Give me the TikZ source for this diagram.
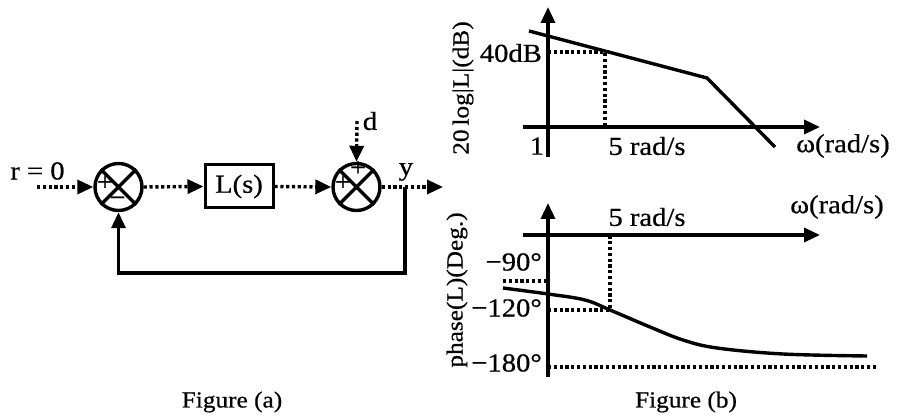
\documentclass[tikz,border=0pt]{standalone}
\usepackage{fontspec}
\setmainfont[FakeStretch=1.1,FakeBold=0.6]{Liberation Serif}
\usetikzlibrary{arrows.meta}
\begin{document}
\begin{tikzpicture}[x=1pt,y=-1pt,
  every node/.style={font=\fontsize{26}{30}\selectfont, inner sep=0pt},
  ln/.style={line width=3.4pt},
  dt/.style={line width=3.4pt, dash pattern=on 3.2pt off 2.6pt},
  arr/.style={-{Triangle[length=16pt,width=14pt]}},
  sumj/.style={circle, draw, line width=3.4pt, minimum size=47pt},
  blk/.style={draw, line width=3pt, minimum width=68pt, minimum height=43pt},
  sgn/.style={font=\fontsize{26}{28}\selectfont, text height=0.5em, text depth=0pt},
  figcap/.style={font=\fontsize{23}{26}\selectfont},
  vlab/.style={rotate=90, font=\fontsize{23}{26}\selectfont}]
\useasboundingbox (0,0) rectangle (897,419);
% ---------- Figure (a) ----------
\node[sumj] (s1) at (118.5,187) {};
\draw[ln] (s1.45) -- (s1.225) (s1.135) -- (s1.315);
\node[sgn] (s1p) at (105,188) {+};
\node[sgn] (s1m) at (117.5,203.5) {−};
\node[blk] (L) at (239,186.5) {L(s)};
\node[sumj] (s2) at (356.5,187) {};
\draw[ln] (s2.45) -- (s2.225) (s2.135) -- (s2.315);
\node[sgn] (s2p1) at (343,188) {+};
\node[sgn] (s2p2) at (358,173.5) {+};
\coordinate (rin) at (37,187);
\node (rl) at (37.5,171) {r = 0};
\draw[dt,arr] (rin) -- (s1.west);
\draw[dt,arr] (s1.east) -- (L.west);
\draw[dt,arr] (L.east) -- (s2.west);
\coordinate (dtop) at (357,121);
\node (dl) at (370,121) {d};
\draw[dt,arr] (dtop) -- (s2.north);
\coordinate (yb) at (405,187);
\coordinate (yout) at (443,187);
\node (yl) at (406,172) {y};
\draw[dt,arr] (s2.east) -- (yout);
\coordinate (fb1) at (405,273);
\coordinate (fb2) at (118.5,273);
\draw[ln,arr] (yb) -- (fb1) -- (fb2) -- (s1.south);
\node[figcap] (fa) at (232,402) {Figure (a)};
% ---------- Figure (b): magnitude ----------
\coordinate (ya1b) at (548,157);
\coordinate (ya1t) at (548,7);
\coordinate (xa1l) at (523,127);
\coordinate (xa1r) at (820,127);
\draw[ln,arr] (ya1b) -- (ya1t);
\draw[ln,arr] (xa1l) -- (xa1r);
\coordinate (m1) at (529,31);
\coordinate (m2) at (707,78);
\coordinate (m3) at (775,147);
\draw[ln] (m1) -- (m2) -- (m3);
\coordinate (d40a) at (548,52);
\coordinate (d40b) at (605,52);
\coordinate (d40c) at (605,127);
\draw[dt] (d40a) -- (d40b) -- (d40c);
\node[anchor=east] (l40) at (542,53) {40dB};
\node (l1) at (537,146) {1};
\node (l5a) at (647,146) {5 rad/s};
\node (lwa) at (843,146) {ω(rad/s)};
\node[vlab] (ylab1) at (463,88) {20\,log|L|(dB)};
% ---------- Figure (b): phase ----------
\coordinate (ya2b) at (548,377);
\coordinate (ya2t) at (548,203);
\coordinate (xa2l) at (523,235);
\coordinate (xa2r) at (820,235);
\draw[ln,arr] (ya2b) -- (ya2t);
\draw[ln,arr] (xa2l) -- (xa2r);
\node (l5b) at (647,217) {5 rad/s};
\node (lwb) at (837,207) {ω(rad/s)};
\node[anchor=east] (l90) at (542,262) {−90°};
\node[anchor=east] (l120) at (542,308) {−120°};
\node[anchor=east] (l180) at (542,363) {−180°};
\coordinate (p90a) at (503,281);
\coordinate (p90b) at (548,281);
\draw[dt] (p90a) -- (p90b);
\coordinate (p120a) at (548,310);
\coordinate (p120b) at (610,310);
\coordinate (p120c) at (610,235);
\draw[dt] (p120a) -- (p120b) -- (p120c);
\coordinate (p180a) at (548,367);
\coordinate (p180b) at (877,367);
\draw[dt] (p180a) -- (p180b);
\draw[ln] plot[smooth, tension=0.6] coordinates {(503,288) (548,294) (585,300) (610,310) (650,327) (683,340) (717,348) (783,354) (867,356)};
\node[vlab] (ylab2) at (457,290) {phase(L)(Deg.)};
\node[figcap] (fb) at (686,402) {Figure (b)};
\end{tikzpicture}
\end{document}
